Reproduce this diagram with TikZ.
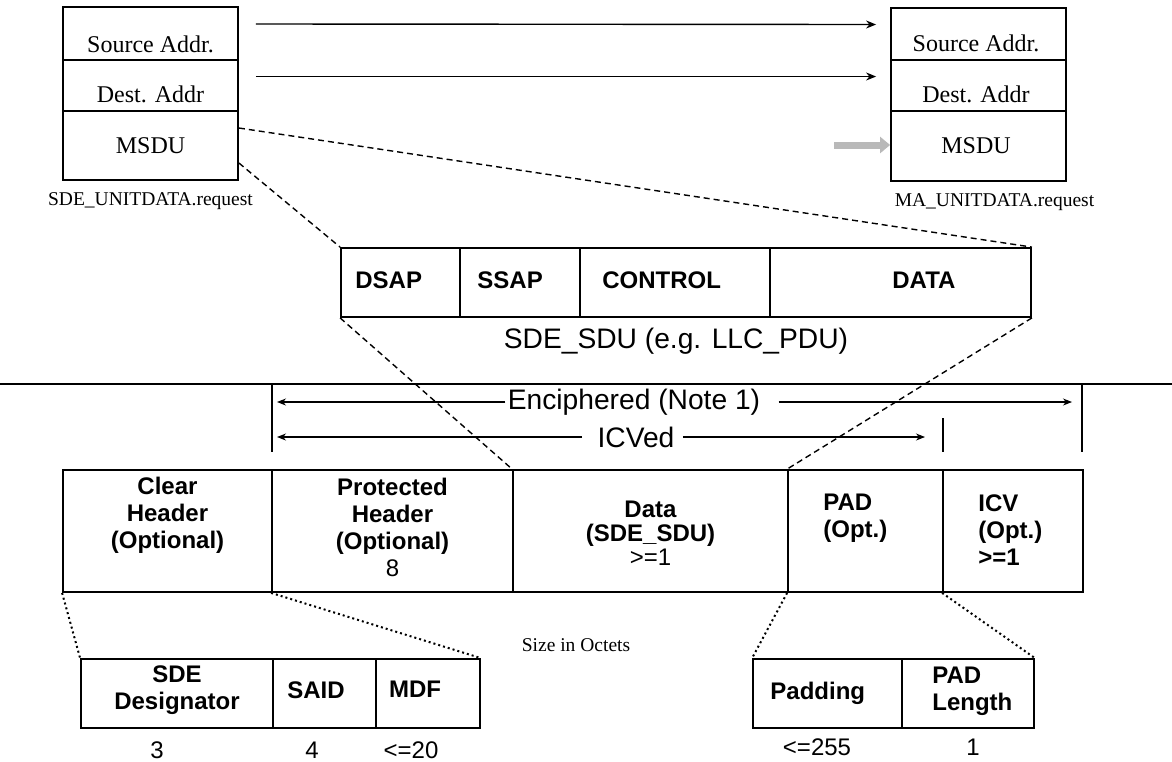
\documentclass[tikz,border=0pt]{standalone}
\usepackage{fontspec}
\setmainfont{Liberation Serif}
\newfontfamily\arialfont{Liberation Sans}
\usetikzlibrary{arrows.meta,positioning}

\begin{document}
\begin{tikzpicture}[
  x=0.5pt, y=-0.5pt,
  cell/.style={draw, line width=0.9pt, inner sep=0pt, minimum width=87.5pt},
  field/.style={draw, line width=0.9pt, inner sep=0pt, minimum height=34.5pt},
  mainfield/.style={draw, line width=0.9pt, inner sep=0pt, minimum height=61pt},
  serif/.style={font=\fontsize{12}{14}\selectfont, inner sep=0pt},
  reqlbl/.style={font=\fontsize{9.75}{11}\selectfont, inner sep=0pt},
  bold/.style={font=\arialfont\bfseries\fontsize{12}{13.5}\selectfont, inner sep=0pt, align=center},
  plain/.style={font=\arialfont\fontsize{12}{13.5}\selectfont, inner sep=0pt},
  big/.style={font=\arialfont\fontsize{14.1}{16}\selectfont, inner sep=0pt},
  flow/.style={-{Stealth[length=5pt,width=4pt]}, line width=0.7pt},
  span/.style={-{Stealth[length=4.5pt,width=3.5pt]}, line width=0.6pt},
  msdu/.style={-{Triangle[length=5pt,width=8pt]}, line width=3.5pt, draw=gray!55},
  zoomed/.style={dash pattern=on 3pt off 2pt, line width=0.7pt},
  dotline/.style={dash pattern=on 1pt off 1.5pt, line width=1pt},
  rule/.style={line width=0.6pt},
]
\useasboundingbox (0,0) rectangle (1172,761);

% primitive on the sending side
\node[cell, minimum height=26.5pt] (srcA) at (150.5,33.5) {};
\node[cell, minimum height=25.5pt] (srcB) at (150.5,85.5) {};
\node[cell, minimum height=34.5pt] (srcC) at (150.5,145.5) {};
\node[serif, anchor=base] at (150.5,52) {Source Addr.};
\node[serif, anchor=base] at (150.5,102) {Dest. Addr};
\node[serif, anchor=base] at (150.5,153) {MSDU};
\node[reqlbl, below=5.5pt of srcC] (srcLbl) {SDE\_UNITDATA.request};

% primitive handed to the MAC
\node[cell, minimum height=26pt] (dstA) at (978.5,34) {};
\node[cell, minimum height=25.5pt] (dstB) at (978.5,85.5) {};
\node[cell, minimum height=35pt] (dstC) at (978.5,146) {};
\node[serif, anchor=base] at (976,51) {Source Addr.};
\node[serif, anchor=base] at (976,102) {Dest. Addr};
\node[serif, anchor=base] at (976,153) {MSDU};
\node[reqlbl, below=5.5pt of dstC, xshift=8pt] (dstLbl) {MA\_UNITDATA.request};

\draw[flow] ([xshift=8.5pt,yshift=4.75pt]srcA.east) -- ([xshift=-7pt,yshift=4.75pt]dstA.west);
\draw[flow] ([xshift=8.5pt,yshift=4.5pt]srcB.east) -- ([xshift=-7pt,yshift=4.5pt]dstB.west);
\draw[msdu] ([xshift=-28pt,yshift=0.5pt]dstC.west) -- ([yshift=0.5pt]dstC.west);

% LLC PDU
\node[field, minimum width=59.5pt] (dsap) at (400.5,282.5) {};
\node[field, minimum width=60pt] (ssap) at (520,282.5) {};
\node[field, minimum width=95pt] (ctrl) at (675,282.5) {};
\node[field, minimum width=130.5pt] (llcdata) at (900.5,282.5) {};
\node[bold, anchor=west] at (355,280) {DSAP};
\node[bold, anchor=west] at (477,280) {SSAP};
\node[bold, anchor=west] at (602,280) {CONTROL};
\node[bold, anchor=west] at (892,280) {DATA};
\node[big] (sduLbl) at (676,341) {SDE\_SDU (e.g. LLC\_PDU)};

\draw[zoomed] ([yshift=8.75pt]srcC.east) -- (llcdata.north east);
\draw[zoomed] ([yshift=-8.75pt]srcC.east) -- (dsap.north west);

\draw[rule] (0,384) -- (1172,384);
\draw[rule] (272,384) -- (272,452);
\draw[rule] (1082,384) -- (1082,452);
\draw[rule] (943,418) -- (943,452);

% protected ranges
\node[big] (enc) at (634,402) {Enciphered (Note 1)};
\coordinate (encL) at (277,402);
\coordinate (encR) at (1072,402);
\draw[span] ([xshift=-1pt]enc.west) -- (encL);
\draw[span] ([xshift=9pt]enc.east) -- (encR);
\node[big] (icved) at (636,437) {ICVed};
\coordinate (icvL) at (277,437);
\coordinate (icvR) at (925,437);
\draw[span] ([xshift=-7.5pt]icved.west) -- (icvL);
\draw[span] ([xshift=4pt]icved.east) -- (icvR);

% SDE PDU
\node[mainfield, minimum width=104.5pt] (clear) at (167.5,531) {};
\node[mainfield, minimum width=120.5pt] (prot) at (392.5,531) {};
\node[mainfield, minimum width=137.5pt] (data) at (650.5,531) {};
\node[mainfield, minimum width=77.5pt] (pad) at (865.5,531) {};
\node[mainfield, minimum width=70pt] (icv) at (1013,531) {};
\node[bold] at (167.5,515) {Clear\\Header\\(Optional)};
\node[bold] at (392.5,527) {Protected\\Header\\(Optional)\\{\mdseries 8}};
\node[bold, font=\arialfont\bfseries\fontsize{12}{12}\selectfont] at (650.5,533) {Data\\(SDE\_SDU)\\{\mdseries >=1}};
\node[bold, align=left, anchor=west] at (823,518) {PAD\\(Opt.)};
\node[bold, align=left, anchor=west] at (978,530) {ICV\\(Opt.)\\>=1};

\draw[zoomed] (dsap.south west) -- (data.north west);
\draw[zoomed] (llcdata.south east) -- (pad.north west);

\node[reqlbl] (sizeLbl) at (576,645) {Size in Octets};

% protected header fields
\node[field, minimum width=96pt] (sde) at (177,693.5) {};
\node[field, minimum width=51.5pt] (said) at (324.5,693.5) {};
\node[field, minimum width=52pt] (mdf) at (428,693.5) {};
\node[bold] at (177,690) {SDE\\Designator};
\node[bold] at (316,690) {SAID};
\node[bold] at (415,689) {MDF};
\node[plain] at (157,750) {3};
\node[plain] at (312,750) {4};
\node[plain] at (411,750) {<=20};

% pad fields
\node[field, minimum width=74.5pt] (padf) at (827.5,693.5) {};
\node[field, minimum width=66pt] (padlen) at (968,693.5) {};
\node[bold, anchor=west] at (770,693) {Padding};
\node[bold, align=left, anchor=west] at (932,691) {PAD\\Length};
\node[plain] at (817,747) {<=255};
\node[plain] at (973,747) {1};

\draw[dotline] (clear.south west) -- (sde.north west);
\draw[dotline] (prot.south west) -- (mdf.north east);
\draw[dotline] (pad.south west) -- (padf.north west);
\draw[dotline] (icv.south west) -- (padlen.north east);

\end{tikzpicture}
\end{document}
